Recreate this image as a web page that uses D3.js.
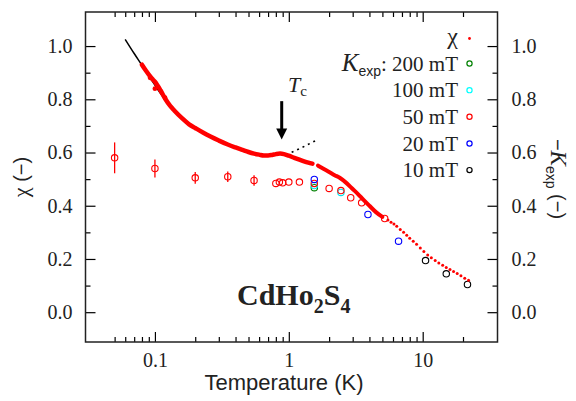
<!DOCTYPE html>
<html><head><meta charset="utf-8">
<script src="https://cdn.jsdelivr.net/npm/d3@7"></script>
<style>body{margin:0;background:#fff}svg{display:block}</style>
</head><body><svg id="c" width="576" height="401"></svg>
<script>
// chi (dense part, drawn as a thick band of points)
const chiT = [0.080,0.085,0.090,0.095,0.100,0.110,0.120,0.130,0.140,0.160,0.180,0.200,0.230,0.260,0.300,0.350,0.400,0.450,0.500,0.550,0.600,0.650,0.700,0.750,0.800,0.860,0.920,1.000,1.100,1.200,1.300,1.400,1.500];
const chiV = [0.930,0.910,0.893,0.878,0.866,0.834,0.800,0.775,0.757,0.728,0.706,0.692,0.674,0.660,0.645,0.630,0.619,0.610,0.602,0.596,0.592,0.589,0.589,0.591,0.594,0.596,0.594,0.588,0.580,0.573,0.567,0.562,0.558];
const chi2T = [1.650,1.800,2.000,2.200,2.400,2.700,3.000,3.300,3.600,4.000,4.500,5.000];
const chi2V = [0.551,0.540,0.527,0.515,0.505,0.485,0.463,0.443,0.423,0.400,0.375,0.358];
// scattered chi points at the low-temperature start
const chiLowT = [0.092,0.100,0.119];
const chiLowV = [0.881,0.840,0.806];
// chi (sparse part, individual points)
const chiSparseT = [5.5,5.8,6.1,6.4,6.8,7.2,7.6,8.0,8.5,9.0,9.6,10.2,10.9,11.6,12.4,13.2,14.1,15.0,16.0,17.0,18.1,19.3,20.6,22.0];
const chiSparseV = [0.346,0.338,0.331,0.323,0.311,0.300,0.289,0.278,0.267,0.255,0.241,0.228,0.215,0.205,0.194,0.185,0.176,0.168,0.160,0.153,0.145,0.137,0.128,0.120];
// fit line (solid) and its extrapolation (dotted)
const fitT = [0.060,0.070,0.080,0.090,0.100,0.110,0.120,0.135];
const fitV = [1.025,0.972,0.928,0.888,0.853,0.822,0.796,0.763];
const fitDotT = [1.05,1.20,1.40,1.62];
const fitDotV = [0.601,0.614,0.631,0.647];
// K_exp data
const k200T = [1.55], k200V = [0.468];
const k100T = [1.55,2.45], k100V = [0.476,0.450];
const k50T = [0.05,0.10,0.20,0.35,0.55,0.80,0.85,0.90,1.00,1.20,1.55,2.00,2.45,2.90,3.50,5.20];
const k50V = [0.580,0.540,0.505,0.509,0.495,0.484,0.489,0.486,0.489,0.489,0.484,0.465,0.457,0.430,0.411,0.352];
const k50Err = [0.058,0.034,0.022,0.020,0.020,0,0,0,0,0,0,0,0,0,0,0];
const k20T = [1.55,3.90,6.60], k20V = [0.499,0.367,0.267];
const k10T = [10.5,15.0,21.6], k10V = [0.194,0.144,0.104];
// ticks
const xMajor = [0.1,1,10], xLabels = ["0.1","1","10"];
const xMinor = [0.05,0.06,0.07,0.08,0.09,0.2,0.3,0.4,0.5,0.6,0.7,0.8,0.9,2,3,4,5,6,7,8,9,20];
const yMajor = [0,0.2,0.4,0.6,0.8,1.0], yLabels = ["0.0","0.2","0.4","0.6","0.8","1.0"];
const yMinor = [0.1,0.3,0.5,0.7,0.9];
const legendLabels = ["200 mT","100 mT","50 mT","20 mT","10 mT"];
const legendColors = ["#008000","#00ffff","#ff0000","#0000ff","#000000"];

const serif = "'Liberation Serif','Times New Roman',serif";
const sans = "'Liberation Sans',Arial,sans-serif";
const svg = d3.select("#c");
const L = 85.5, R = 497.5, T = 12, B = 342;
const x = d3.scaleLog().domain([0.0303, 36.2]).range([L, R]);
const y = d3.scaleLinear().domain([-0.112, 1.128]).range([B, T]);

function styleAxis(g){
  g.select("path.domain").remove();
  g.attr("font-family", null).attr("font-size", null);
  g.selectAll("line").attr("stroke","#000").attr("stroke-width",1.2);
  g.selectAll("text").style("font-family",serif).style("font-size","20px").attr("fill","#222");
}
const fmtX = d => xLabels[xMajor.indexOf(d)];
const fmtY = d => yLabels[yMajor.findIndex(v => Math.abs(v-d)<1e-9)];
svg.append("g").attr("transform",`translate(0,${B})`).call(d3.axisBottom(x).tickValues(xMajor).tickFormat(fmtX).tickSize(-10).tickPadding(11)).call(styleAxis);
svg.append("g").attr("transform",`translate(0,${B})`).call(d3.axisBottom(x).tickValues(xMinor).tickFormat("").tickSize(-5)).call(styleAxis);
svg.append("g").attr("transform",`translate(0,${T})`).call(d3.axisTop(x).tickValues(xMajor).tickFormat("").tickSize(-10)).call(styleAxis);
svg.append("g").attr("transform",`translate(0,${T})`).call(d3.axisTop(x).tickValues(xMinor).tickFormat("").tickSize(-5)).call(styleAxis);
svg.append("g").attr("transform",`translate(${L},0)`).call(d3.axisLeft(y).tickValues(yMajor).tickFormat(fmtY).tickSize(-10).tickPadding(13)).call(styleAxis);
svg.append("g").attr("transform",`translate(${L},0)`).call(d3.axisLeft(y).tickValues(yMinor).tickFormat("").tickSize(-5)).call(styleAxis);
svg.append("g").attr("transform",`translate(${R},0)`).call(d3.axisRight(y).tickValues(yMajor).tickFormat(fmtY).tickSize(-10).tickPadding(14)).call(styleAxis);
svg.append("g").attr("transform",`translate(${R},0)`).call(d3.axisRight(y).tickValues(yMinor).tickFormat("").tickSize(-5)).call(styleAxis);
svg.append("rect").attr("x",L).attr("y",T).attr("width",R-L).attr("height",B-T)
  .attr("fill","none").attr("stroke","#222").attr("stroke-width",1.5);

// K_exp circles
function circles(ts, vs, color){
  svg.append("g").selectAll("circle").data(ts).join("circle")
    .attr("cx",(d)=>x(d)).attr("cy",(d,i)=>y(vs[i])).attr("r",3.2)
    .attr("fill","none").attr("stroke",color).attr("stroke-width",1.1);
}
// error bars
svg.append("g").selectAll("line").data(k50T.filter((d,i)=>k50Err[i]>0)).join("line")
  .attr("x1",d=>x(d)).attr("x2",d=>x(d))
  .attr("y1",(d,i)=>y(k50V[i]+k50Err[i])).attr("y2",(d,i)=>y(k50V[i]-k50Err[i]))
  .attr("stroke","#ff0000").attr("stroke-width",1.3);
circles(k200T,k200V,"#008000");
circles(k100T,k100V,"#00e5ee");
circles(k50T,k50V,"#ff0000");
circles(k20T,k20V,"#0000ff");
circles(k10T,k10V,"#000000");

// fit
const line = d3.line().x(d=>x(d[0])).y(d=>y(d[1])).curve(d3.curveMonotoneX);
svg.append("path").attr("d",line(fitT.map((t,i)=>[t,fitV[i]]))).attr("fill","none").attr("stroke","#000").attr("stroke-width",1.5);
svg.append("path").attr("d",line(fitDotT.map((t,i)=>[t,fitDotV[i]]))).attr("fill","none").attr("stroke","#000").attr("stroke-width",1.6).attr("stroke-dasharray","2,4");

// chi
svg.append("path").attr("d",line(chiT.map((t,i)=>[t,chiV[i]]))).attr("fill","none").attr("stroke","#ff0000").attr("stroke-width",4.5).attr("stroke-linecap","round");
svg.append("path").attr("d",line(chi2T.map((t,i)=>[t,chi2V[i]]))).attr("fill","none").attr("stroke","#ff0000").attr("stroke-width",4).attr("stroke-linecap","round");
svg.append("g").selectAll("circle").data(chiLowT).join("circle")
  .attr("cx",d=>x(d)).attr("cy",(d,i)=>y(chiLowV[i])).attr("r",2.4).attr("fill","#ff0000");
svg.append("g").selectAll("circle").data(chiSparseT).join("circle")
  .attr("cx",d=>x(d)).attr("cy",(d,i)=>y(chiSparseV[i])).attr("r",1.5).attr("fill","#ff0000");

// Tc arrow annotation
const ax = x(0.885);
svg.append("line").attr("x1",ax).attr("x2",ax).attr("y1",y(0.793)).attr("y2",y(0.685)).attr("stroke","#000").attr("stroke-width",3);
svg.append("path").attr("d",`M${ax-5.5},${y(0.69)}L${ax+5.5},${y(0.69)}L${ax},${y(0.649)}Z`).attr("fill","#000");
const tc = svg.append("text").attr("x",x(0.985)).attr("y",y(0.826)).style("font-family",serif).style("font-size","22px").attr("fill","#222");
tc.append("tspan").attr("font-style","italic").text("T");
tc.append("tspan").style("font-size","15px").attr("dy",4).text("c");

// compound label
const cl = svg.append("text").attr("x",237).attr("y",305).style("font-family",serif).attr("font-weight","bold").style("font-size","30px").attr("fill","#222");
cl.append("tspan").text("CdHo");
cl.append("tspan").style("font-size","20px").attr("dy",8).text("2");
cl.append("tspan").attr("dy",-8).text("S");
cl.append("tspan").style("font-size","20px").attr("dy",8).text("4");

// legend
const lx = 458, mx = 469.5;
svg.append("text").attr("x",lx).attr("y",44).attr("text-anchor","end").style("font-family",serif).style("font-size","24px").attr("fill","#222").text("χ");
svg.append("circle").attr("cx",mx).attr("cy",38.5).attr("r",1.4).attr("fill","#ff0000");
legendLabels.forEach((lab,i)=>{
  const yy = 70.7 + i*26.65;
  const t = svg.append("text").attr("x",lx).attr("y",yy).attr("text-anchor","end").style("font-family",serif).style("font-size","21px").attr("fill","#222");
  if(i===0){
    t.append("tspan").attr("font-style","italic").style("font-size","25px").text("K");
    t.append("tspan").style("font-family",sans).style("font-size","14px").attr("dy",5).text("exp");
    t.append("tspan").attr("dy",-5).text(": " + lab);
  } else t.text(lab);
  svg.append("circle").attr("cx",mx).attr("cy",yy-7.2).attr("r",2.6).attr("fill","none")
    .attr("stroke",legendColors[i]).attr("stroke-width",1.2);
});

// axis titles
svg.append("text").attr("x",284).attr("y",390).attr("text-anchor","middle").style("font-family",sans).style("font-size","22px").attr("fill","#222").text("Temperature (K)");
const lt = svg.append("text").attr("transform",`translate(28,${(T+B)/2}) rotate(-90)`).attr("text-anchor","middle").style("font-family",sans).style("font-size","20px").attr("fill","#222");
lt.append("tspan").style("font-family",serif).style("font-size","22px").text("χ");
lt.append("tspan").text(" (−)");
const rt = svg.append("text").attr("transform",`translate(551,${(T+B)/2+2}) rotate(90)`).attr("text-anchor","middle").style("font-family",sans).style("font-size","20px").attr("fill","#222");
rt.append("tspan").text("−");
rt.append("tspan").style("font-family",serif).attr("font-style","italic").style("font-size","23px").text("K");
rt.append("tspan").style("font-size","14px").attr("dy",5).text("exp");
rt.append("tspan").attr("dy",-5).text(" (−)");
</script></body></html>
